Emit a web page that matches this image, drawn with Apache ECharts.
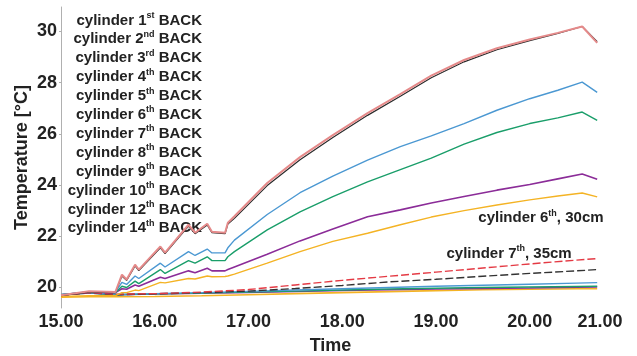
<!DOCTYPE html>
<html>
<head>
<meta charset="utf-8">
<script src="https://cdn.jsdelivr.net/npm/echarts@6/dist/echarts.min.js"></script>
<style>
  html, body { margin: 0; padding: 0; background: #fff; }
  #chart { width: 637px; height: 356px; }
</style>
</head>
<body>
<div id="chart"></div>
<script>
  // time in hours; the rising lines share one time base, the flat ones another
  const timeTop = [15.00, 15.30, 15.58, 15.65, 15.70, 15.79, 15.83, 16.06, 16.11, 16.36, 16.43, 16.56, 16.61, 16.75,
    16.78, 16.85, 17.20, 17.55, 17.90, 18.27, 18.62, 18.95, 19.30, 19.65, 20.00, 20.30, 20.56, 20.72];
  const timeBottom = [15.0, 15.3, 15.6, 16.0, 16.5, 17.0, 17.5, 18.0, 18.5, 19.0, 19.5, 20.0, 20.5, 20.72];

  const back1 = [19.70, 19.85, 19.82, 20.50, 20.31, 20.89, 20.70, 21.60, 21.36, 22.45, 22.14, 22.49, 22.18, 22.14,
    22.53, 22.78, 24.08, 25.09, 25.95, 26.81, 27.55, 28.27, 28.88, 29.34, 29.68, 29.94, 30.19, 29.55];
  const back2 = [19.68, 19.82, 19.80, 20.45, 20.28, 20.84, 20.66, 21.55, 21.32, 22.40, 22.10, 22.44, 22.14, 22.10,
    22.48, 22.70, 23.98, 24.99, 25.86, 26.72, 27.47, 28.19, 28.81, 29.28, 29.64, 29.92, 30.19, 29.60];
  const back3 = [19.72, 19.84, 19.82, 20.20, 20.12, 20.45, 20.35, 20.95, 20.80, 21.40, 21.25, 21.50, 21.35, 21.35,
    21.55, 21.85, 22.85, 23.70, 24.35, 24.97, 25.50, 25.92, 26.40, 26.92, 27.37, 27.70, 28.02, 27.62];
  const back4 = [19.72, 19.83, 19.80, 20.05, 20.00, 20.25, 20.15, 20.70, 20.55, 21.05, 20.95, 21.20, 21.05, 21.05,
    21.20, 21.40, 22.25, 22.95, 23.55, 24.12, 24.60, 25.05, 25.60, 26.05, 26.40, 26.62, 26.85, 26.52];
  const back5 = [19.72, 19.82, 19.80, 19.95, 19.93, 20.10, 20.05, 20.40, 20.35, 20.65, 20.58, 20.75, 20.65, 20.65,
    20.70, 20.80, 21.30, 21.82, 22.28, 22.76, 23.03, 23.30, 23.55, 23.80, 24.02, 24.24, 24.43, 24.23];
  const back6 = [19.65, 19.68, 19.68, 19.80, 19.80, 19.90, 19.88, 20.20, 20.18, 20.35, 20.33, 20.45, 20.42, 20.43,
    20.45, 20.52, 20.95, 21.40, 21.80, 22.12, 22.45, 22.75, 23.00, 23.22, 23.42, 23.57, 23.69, 23.54];

  const back7 = [19.70, 19.80, 19.74, 19.76, 19.82, 19.92, 20.10, 20.28, 20.44, 20.60, 20.76, 20.92, 21.07, 21.13];
  const back8 = [19.70, 19.80, 19.72, 19.75, 19.80, 19.86, 19.96, 20.08, 20.22, 20.32, 20.44, 20.55, 20.65, 20.70];
  const back9 = [19.72, 19.80, 19.73, 19.76, 19.80, 19.85, 19.90, 19.95, 20.00, 20.05, 20.09, 20.13, 20.17, 20.19];
  const back10 = [19.72, 19.78, 19.72, 19.75, 19.78, 19.82, 19.86, 19.90, 19.94, 19.97, 20.00, 20.02, 20.04, 20.05];
  const back12 = [19.72, 19.78, 19.72, 19.74, 19.77, 19.80, 19.84, 19.88, 19.91, 19.94, 19.96, 19.98, 20.01, 20.02];
  const back14 = [19.62, 19.64, 19.64, 19.65, 19.68, 19.72, 19.76, 19.80, 19.84, 19.88, 19.91, 19.93, 19.95, 19.95];

  const names = ['cylinder 1st BACK', 'cylinder 2nd BACK', 'cylinder 3rd BACK', 'cylinder 4th BACK',
    'cylinder 5th BACK', 'cylinder 6th BACK', 'cylinder 7th BACK', 'cylinder 8th BACK',
    'cylinder 9th BACK', 'cylinder 10th BACK', 'cylinder 12th BACK', 'cylinder 14th BACK'];
  const xTicks = [15, 16, 17, 18, 19, 20, 20.75];
  const yTicks = [20, 22, 24, 26, 28, 30];

  // notes written on the plot, in data coordinates
  const note30 = {text: 'cylinder 6th, 30cm', at: [20.12, 22.70]};
  const note35 = {text: 'cylinder 7th, 35cm', at: [19.78, 21.33]};

  const font = 'Liberation Sans, Arial, sans-serif';
  const ink = '#222';

  // "1st" -> 1 + superscript st
  function supText(s) {
    let m = s.match(/^(.*?)(\d+)(st|nd|rd|th)(.*)$/);
    if (!m) return '{a|' + s + '}';
    return '{a|' + m[1] + m[2] + '}{s|' + m[3] + '}{a|' + m[4] + '}';
  }
  const rich = {
    a: {fontSize: 15, fontWeight: 'bold', color: ink, fontFamily: font, align: 'right', lineHeight: 18.8},
    s: {fontSize: 9, fontWeight: 'bold', color: ink, fontFamily: font, align: 'right', verticalAlign: 'top', lineHeight: 14}
  };

  function pairs(times, vals) {
    return times.map(function (t, i) { return [t, vals[i]]; });
  }

  let chart = echarts.init(document.getElementById('chart'));

  let lines = [
    {vals: back1, t: timeTop, color: '#e58a8a', width: 2},
    {vals: back2, t: timeTop, color: '#2b2b2b', width: 1.2},
    {vals: back3, t: timeTop, color: '#4b98d2', width: 1.4},
    {vals: back4, t: timeTop, color: '#1a9e6a', width: 1.4},
    {vals: back5, t: timeTop, color: '#8b2c98', width: 1.6},
    {vals: back6, t: timeTop, color: '#f4b324', width: 1.4},
    {vals: back7, t: timeBottom, color: '#e43a44', width: 1.4, type: [8, 3]},
    {vals: back8, t: timeBottom, color: '#333333', width: 1.4, type: [8, 3]},
    {vals: back9, t: timeBottom, color: '#4b98d2', width: 1.4},
    {vals: back10, t: timeBottom, color: '#1a9e6a', width: 1.4},
    {vals: back12, t: timeBottom, color: '#8b2c98', width: 1.4},
    {vals: back14, t: timeBottom, color: '#f4b324', width: 1.6}
  ];

  function notePoint(note) {
    return {
      coord: note.at,
      symbol: 'circle',
      symbolSize: 0,
      itemStyle: {color: 'rgba(0,0,0,0)'},
      label: {show: true, position: 'inside', formatter: supText(note.text), rich: rich}
    };
  }

  let series = lines.map(function (l, i) {
    let s = {
      name: names[i],
      type: 'line',
      data: pairs(l.t, l.vals),
      showSymbol: false,
      lineStyle: {color: l.color, width: l.width, type: l.type || 'solid'},
      itemStyle: {color: l.color},
      z: 12 - i
    };
    if (i === 5) s.markPoint = {silent: true, data: [notePoint(note30)]};
    if (i === 6) s.markPoint = {silent: true, data: [notePoint(note35)]};
    return s;
  });

  let option = {
    animation: false,
    backgroundColor: '#fff',
    grid: {left: 61, right: 37, top: 7, bottom: 48, containLabel: false, outerBoundsMode: 'none'},
    legend: {
      orient: 'vertical',
      left: 51,
      top: 6,
      itemWidth: 0,
      itemHeight: 0,
      itemGap: 2,
      selectedMode: false,
      data: names,
      formatter: supText,
      textStyle: {width: 140, rich: rich}
    },
    xAxis: {
      type: 'value',
      min: 15,
      max: 20.75,
      name: 'Time',
      nameLocation: 'middle',
      nameGap: 29,
      nameTextStyle: {fontSize: 18, fontWeight: 'bold', color: ink, fontFamily: font},
      axisLine: {show: false},
      axisTick: {show: false},
      splitLine: {show: false},
      axisLabel: {
        customValues: xTicks,
        margin: 5,
        fontSize: 18,
        fontWeight: 'bold',
        color: ink,
        fontFamily: font,
        // the last mark of the time scale is printed as 21.00
        formatter: function (v) { return v > 20.5 ? '21.00' : v.toFixed(2); }
      }
    },
    yAxis: {
      type: 'value',
      min: 19.2,
      max: 30.95,
      name: 'Temperature [°C]',
      nameLocation: 'middle',
      nameGap: 30,
      nameMoveOverlap: false,
      nameTextStyle: {fontSize: 18, fontWeight: 'bold', color: ink, fontFamily: font},
      axisLine: {show: true, lineStyle: {color: '#b0b0b0', width: 1}},
      axisTick: {show: true, customValues: yTicks, length: 2, lineStyle: {color: '#b0b0b0'}},
      splitLine: {show: false},
      axisLabel: {
        customValues: yTicks,
        margin: 4,
        fontSize: 18,
        fontWeight: 'bold',
        color: ink,
        fontFamily: font
      }
    },
    series: series
  };

  chart.setOption(option);
</script>
</body>
</html>
